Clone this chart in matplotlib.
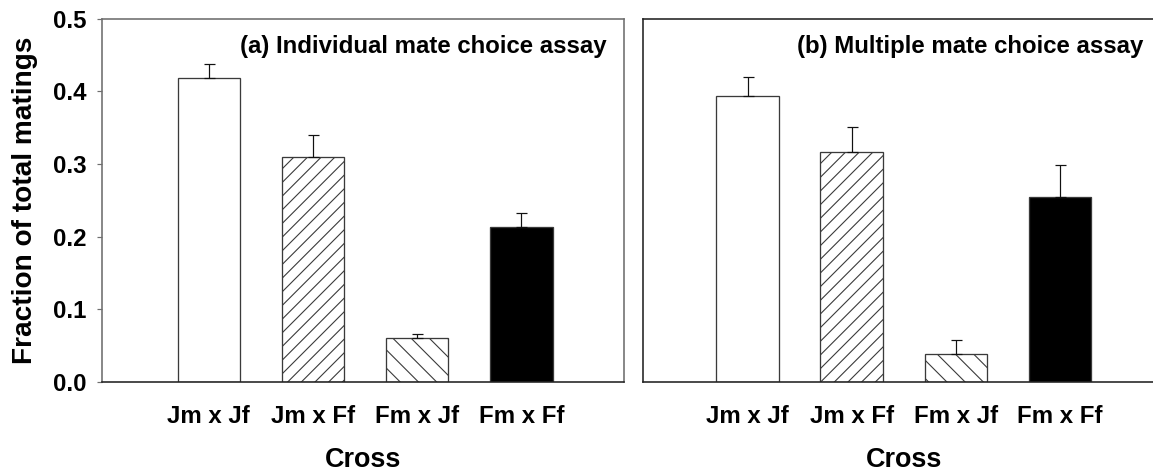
import numpy as np
import matplotlib
matplotlib.use('Agg')
import matplotlib.pyplot as plt

# Mean fraction of matings per cross, with standard errors
crosses = ['Jm x Jf', 'Jm x Ff', 'Fm x Jf', 'Fm x Ff']
individual_mean = [0.418, 0.309, 0.060, 0.213]
individual_se = [0.020, 0.031, 0.0065, 0.020]
multiple_mean = [0.394, 0.316, 0.038, 0.255]
multiple_se = [0.025, 0.035, 0.020, 0.043]

# dpi also sets the hatch spacing in Agg
DPI = 164
W, H = 1153, 472


def pt(px):
    # pixel size -> points at the figure dpi
    return px * 72.0 / DPI


plt.rcParams['font.family'] = ['Liberation Sans', 'DejaVu Sans']
plt.rcParams['font.weight'] = 'bold'
plt.rcParams['hatch.linewidth'] = pt(1.1)

fills = ['white', 'white', 'white', 'black']
hatches = ['', '////', '\\\\\\', '']

fig = plt.figure(figsize=(W / DPI, H / DPI), dpi=DPI)
ax_a = fig.add_axes([102.5 / W, 90 / H, 521 / W, 363.5 / H])
ax_b = fig.add_axes([643.3 / W, 90 / H, 521 / W, 363.5 / H])

x = np.arange(1, len(crosses) + 1)


def draw_panel(ax, means, errs, title, title_x, xlim, spine_col):
    zeros = np.zeros(len(means))
    ax.bar(x, means, width=0.6, color=fills, edgecolor='#3a3a3a',
           linewidth=pt(1.3), zorder=2,
           yerr=[zeros, errs], capsize=pt(5.5),
           error_kw=dict(ecolor='#111111', elinewidth=pt(1.2), capthick=pt(1.2), zorder=3))
    for patch, h in zip(ax.patches, hatches):
        if h:
            patch.set_hatch(h)
    ax.set_xlim(*xlim)
    ax.set_ylim(0, 0.5)
    ax.set_xticks(x)
    ax.set_xticklabels(crosses, fontsize=pt(24), fontweight='bold')
    ax.tick_params(axis='x', length=0, pad=pt(23))
    for side in ['left', 'top', 'right']:
        ax.spines[side].set_color(spine_col)
        ax.spines[side].set_linewidth(pt(1.6))
    ax.spines['bottom'].set_color('#222222')
    ax.spines['bottom'].set_linewidth(pt(1.6))
    # panel title sits inside the plot area, near the top
    ax.text(title_x, 0.453, title, transform=ax.get_yaxis_transform(),
            ha='center', va='baseline', fontsize=pt(24), fontweight='bold')
    ax.set_xlabel('Cross', fontsize=pt(27), fontweight='bold')
    ax.xaxis.set_label_coords(0.5, -0.178)
    ax.xaxis.label.set_va('top')


draw_panel(ax_a, individual_mean, individual_se,
           '(a) Individual mate choice assay', 0.615, (-0.02, 4.98), '#6e6e6e')
draw_panel(ax_b, multiple_mean, multiple_se,
           '(b) Multiple mate choice assay', 0.628, (0, 5), '#222222')

ax_a.set_yticks([0.0, 0.1, 0.2, 0.3, 0.4, 0.5])
ax_a.set_yticklabels(['0.0', '0.1', '0.2', '0.3', '0.4', '0.5'],
                     fontsize=pt(24), fontweight='bold')
ax_a.tick_params(axis='y', length=pt(5), width=pt(1.2), color='#6e6e6e',
                 direction='out', pad=pt(11))
ax_a.set_ylabel('Fraction of total matings', fontsize=pt(28), fontweight='bold')
ax_a.yaxis.set_label_coords(-0.123, 0.5)

ax_b.set_yticks([])
ax_b.spines['right'].set_visible(False)

fig.savefig('out.png', dpi=DPI)
